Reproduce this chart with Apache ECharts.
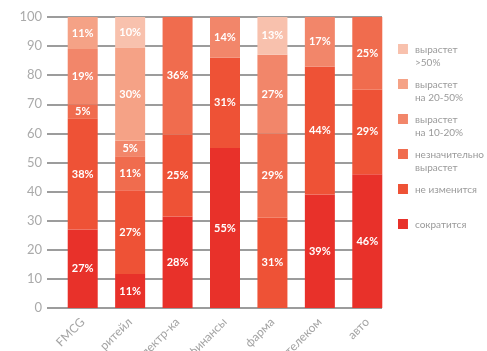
<!DOCTYPE html>
<html>
<head>
<meta charset="utf-8">
<script src="https://cdn.jsdelivr.net/npm/echarts@6/dist/echarts.min.js"></script>
<style>
  html, body { margin: 0; padding: 0; background: #fff; }
  #main { width: 487px; height: 351px; }
</style>
</head>
<body>
<div id="main"></div>
<script>
// категории и доли (подписи на столбцах), снизу вверх
var categories = ['FMCG', 'ритейл', 'электр-ка', 'финансы', 'фарма', 'телеком', 'авто'];
var sokratitsya = [27, 11, 28, 55, 0, 39, 46];
var neIzmenitsya = [38, 27, 25, 31, 31, 44, 29];
var neznachitelno = [5, 11, 36, 0, 29, 0, 25];
var na10_20 = [19, 5, 0, 14, 27, 17, 0];
var na20_50 = [11, 30, 0, 0, 0, 0, 0];
var bolee50 = [0, 10, 0, 0, 13, 0, 0];
var yTicks = [0, 10, 20, 30, 40, 50, 60, 70, 80, 90, 100];

var seriesDefs = [
  { name: 'сократится', legend: 'сократится', data: sokratitsya, color: '#e8312a' },
  { name: 'не изменится', legend: 'не изменится', data: neIzmenitsya, color: '#ee5236' },
  { name: 'незначительно вырастет', legend: 'незначительно\nвырастет', data: neznachitelno, color: '#f06c4e' },
  { name: 'вырастет на 10-20%', legend: 'вырастет\nна 10-20%', data: na10_20, color: '#f2866a' },
  { name: 'вырастет на 20-50%', legend: 'вырастет\nна 20-50%', data: na20_50, color: '#f5a286' },
  { name: 'вырастет >50%', legend: 'вырастет\n>50%', data: bolee50, color: '#f8c1ad' }
];

// суммы по столбцам (каждый столбец нормирован до 100%)
var totals = categories.map(function (c, i) {
  return seriesDefs.reduce(function (s, d) { return s + d.data[i]; }, 0);
});

var legendNames = {};
seriesDefs.forEach(function (d) { legendNames[d.name] = d.legend; });

// квадрат вверху, чтобы стоял напротив первой строки
var tallIcon = 'path://M0,0h0.1v0.1h-0.1z M0,1h10v10h-10z M0,26h0.1v0.1h-0.1z';

var chart = echarts.init(document.getElementById('main'));
var option = {
  backgroundColor: '#fff',
  animation: false,
  textStyle: { fontFamily: 'Lato, sans-serif' },
  grid: [
    { left: 59, right: 96, top: 17, bottom: 43, outerBoundsMode: 'none' }, // столбцы
    { left: 47, right: 105, top: 17, bottom: 43, outerBoundsMode: 'none' } // сетка
  ],
  legend: {
    orient: 'vertical',
    left: 393,
    top: 38,
    itemWidth: 10,
    itemHeight: 26,
    itemGap: 9,
    icon: tallIcon,
    data: seriesDefs.slice().reverse().map(function (d) { return d.name; }),
    formatter: function (name) {
      var t = legendNames[name];
      return t.indexOf('\n') < 0 ? t + '\n ' : t;
    },
    textStyle: { color: '#9a9a9a', fontSize: 10, lineHeight: 13, padding: [0, 0, 0, 2] }
  },
  xAxis: [{
    type: 'category',
    gridIndex: 0,
    data: categories,
    axisLine: { show: false },
    axisTick: { show: false },
    axisLabel: { rotate: 45, color: '#a4a4a4', fontSize: 12, margin: 12 }
  }, {
    type: 'category',
    gridIndex: 1,
    data: categories,
    show: false
  }],
  yAxis: [{
    type: 'value',
    gridIndex: 0,
    min: yTicks[0],
    max: yTicks[yTicks.length - 1],
    interval: 10,
    show: false
  }, {
    type: 'value',
    gridIndex: 1,
    min: yTicks[0],
    max: yTicks[yTicks.length - 1],
    interval: 10,
    axisLine: { show: false },
    axisTick: { show: false },
    axisLabel: { color: '#aaaaaa', fontSize: 13, margin: 5 },
    splitLine: { lineStyle: { color: '#9c9c9c', width: 2 } }
  }],
  series: seriesDefs.map(function (d) {
    return {
      name: d.name,
      type: 'bar',
      stack: 'all',
      xAxisIndex: 0,
      yAxisIndex: 0,
      barWidth: 30,
      itemStyle: { color: d.color },
      label: {
        show: true,
        position: 'inside',
        color: '#fff',
        fontWeight: 'bold',
        fontSize: 11,
        formatter: function (p) {
          var v = d.data[p.dataIndex];
          return v > 0 ? v + '%' : '';
        }
      },
      data: d.data.map(function (v, i) { return v / totals[i] * 100; })
    };
  })
};
chart.setOption(option);
window.onresize = chart.resize;
</script>
</body>
</html>
